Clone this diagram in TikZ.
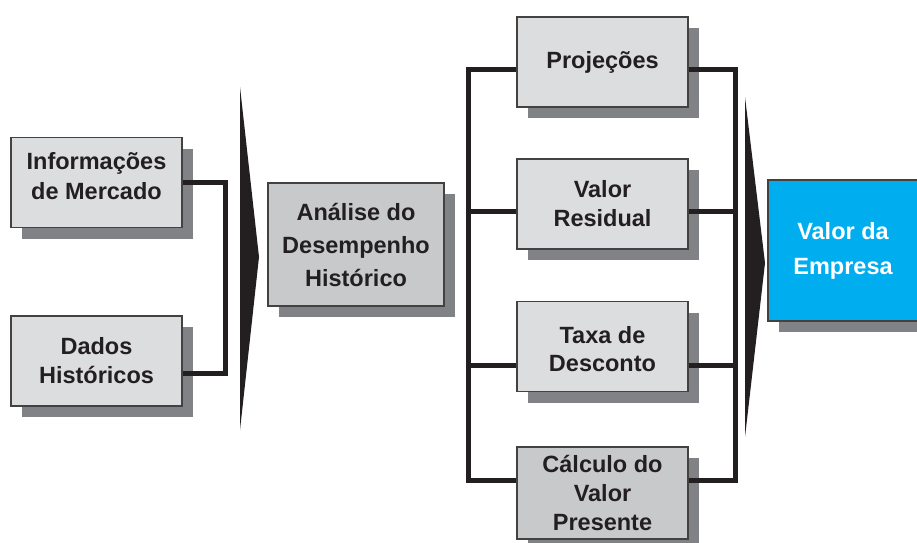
\documentclass[tikz,border=0pt]{standalone}
\usepackage{fontspec}
\setmainfont{Liberation Sans}
\usetikzlibrary{shadows}
\definecolor{boxfill}{HTML}{DCDDDE}
\definecolor{boxdark}{HTML}{C8C9CB}
\definecolor{shadowc}{HTML}{808285}
\definecolor{ink}{HTML}{231F20}
\definecolor{cyanfill}{HTML}{00AEEF}
\begin{document}
\begin{tikzpicture}[x=1pt,y=-1pt,
  box/.style={draw=ink!85, line width=1.2pt, fill=boxfill, text=ink,
    font=\bfseries\fontsize{23.5}{29}\selectfont, align=center, inner sep=0pt,
    minimum width=171pt, minimum height=90pt,
    drop shadow={shadow xshift=11pt, shadow yshift=-11pt, fill=shadowc, opacity=1}},
  lbl/.style={text=ink, font=\bfseries\fontsize{23.5}{30}\selectfont, align=center, inner sep=0pt},
  bus/.style={draw=ink, line width=5pt},
  chev/.style={fill=ink}]
\useasboundingbox (0,0) rectangle (917,542);
\clip (0,0) rectangle (917,542);
% left inputs
\node[box] (info) at (96.5,182.5) {};
\node[lbl] (infot) at (96.5,176) {Informações\\de Mercado};
\node[box] (dados) at (96.5,361) {Dados\\Históricos};
\draw[bus] (info.east) -| (225,373) coordinate (lj) -- ([yshift=-12pt]dados.east);
% first chevron
\fill[chev] (240,87) -- (259,257) -- (240,430) -- cycle;
% analysis
\node[box, fill=boxdark, minimum width=176pt, minimum height=123pt,
  font=\bfseries\fontsize{23.5}{33}\selectfont] (anal) at (356,244.5) {Análise do\\Desempenho\\Histórico};
% middle column
\node[box] (proj) at (602.5,62) {Projeções};
\node[box] (resid) at (602.5,204) {Valor\\Residual};
\node[box] (taxa) at (602.5,346.5) {};
\node[lbl, font=\bfseries\fontsize{23.5}{28}\selectfont] (taxat) at (602.5,349) {Taxa de\\Desconto};
\node[box, fill=boxdark, minimum height=92pt] (calc) at (602.5,493) {Cálculo do\\Valor\\Presente};
\coordinate (lt) at (468,69);
\coordinate (lb) at (468,480);
\coordinate (rt) at (735,69);
\coordinate (rb) at (735,480);
\draw[bus] ([yshift=-7pt]proj.west) -- (lt) -- (lb) -- ([yshift=13pt]calc.west);
\draw[bus] ([yshift=-7pt]resid.west) -- (468,211);
\draw[bus] ([yshift=-18.5pt]taxa.west) -- (468,365);
\draw[bus] ([yshift=-7pt]proj.east) -- (rt) -- (rb) -- ([yshift=13pt]calc.east);
\draw[bus] ([yshift=-7pt]resid.east) -- (735,211);
\draw[bus] ([yshift=-18.5pt]taxa.east) -- (735,365);
% second chevron
\fill[chev] (745,97) -- (765,263) -- (745,437) -- cycle;
% result
\node[box, fill=cyanfill, minimum width=150pt, minimum height=141pt] (valor) at (843,250.5) {};
\node[lbl, text=white, font=\bfseries\fontsize{23.5}{35}\selectfont] (vtext) at (843,250.5) {Valor da\\Empresa};
\end{tikzpicture}
\end{document}
